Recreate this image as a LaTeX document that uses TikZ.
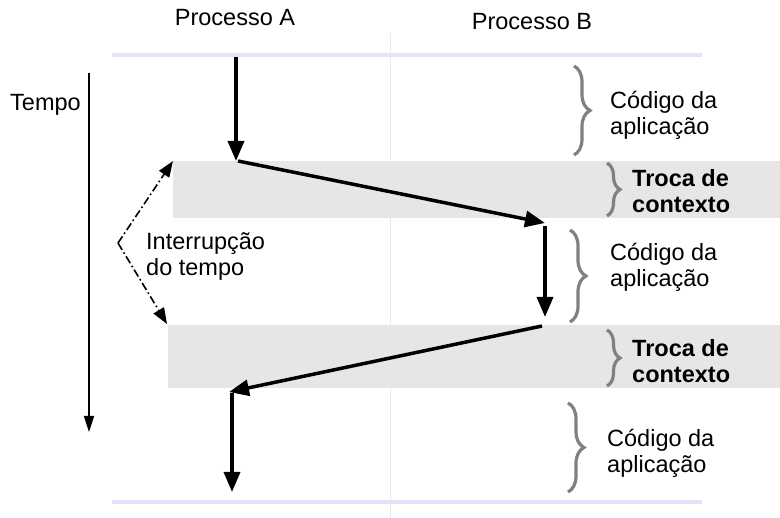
\documentclass[tikz,border=0pt]{standalone}
\usepackage{fontspec}
\setmainfont{Liberation Sans}
\usetikzlibrary{arrows.meta,decorations.pathreplacing}
\definecolor{faixa}{RGB}{230,230,230}
\definecolor{lavanda}{RGB}{226,226,248}
\definecolor{divisor}{RGB}{232,232,244}
\definecolor{chave}{RGB}{128,128,128}

\begin{document}
\begin{tikzpicture}[x=1pt,y=-1pt,
  rotulo/.style={font=\fontsize{23.5}{26}\selectfont,align=left,anchor=west,inner sep=0pt},
  titulo/.style={font=\fontsize{23.5}{26}\selectfont,inner sep=0pt},
  fluxo/.style={line width=3.5pt,-{Triangle[length=20pt,width=16pt]}},
  chaveta/.style={draw=chave,line width=3.2pt,decorate,decoration={brace,amplitude=#1}},
  interr/.style={line width=1.6pt,dash pattern=on 8pt off 3pt on 1.6pt off 3pt,-{Triangle[length=16pt,width=12pt]}}]
\useasboundingbox (0,0) rectangle (780,518);

% faixas de troca de contexto
\fill[faixa] (173,161) rectangle (780,218);
\fill[faixa] (168,325) rectangle (780,388);

% linhas de fundo
\draw[divisor,line width=1pt] (390,33) -- (390,518);
\draw[lavanda,line width=4pt] (112,55) -- (702,55);
\draw[lavanda,line width=4pt] (112,502) -- (702,502);

% titulos
\node[titulo] (pa) at (235,18) {Processo A};
\node[titulo] (pb) at (532,22) {Processo B};
\node[rotulo] (tempo) at (10,105) {Tempo};

% eixo do tempo
\coordinate (t0) at (89,73);
\coordinate (t1) at (89,432);
\draw[line width=1.5pt,-{Triangle[length=16pt,width=10pt]}] (t0) -- (t1);

% fluxo de execucao
\coordinate (a0) at (236,57);
\coordinate (a1) at (236,161);
\coordinate (a2) at (238,161);
\coordinate (b0) at (545,223);
\coordinate (b1) at (545,226);
\coordinate (b2) at (545,317);
\coordinate (b3) at (542,326);
\coordinate (c0) at (229,392);
\coordinate (c1) at (232,393);
\coordinate (c2) at (232,492);
\draw[fluxo] (a0) -- (a1);
\draw[fluxo] (a2) -- (b0);
\draw[fluxo] (b1) -- (b2);
\draw[fluxo] (b3) -- (c0);
\draw[fluxo] (c1) -- (c2);

% interrupcao
\coordinate (int) at (118,243);
\coordinate (int1) at (173,161);
\coordinate (int2) at (167,324);
\draw[interr] (int) -- (int1);
\draw[interr] (int) -- (int2);
\node[rotulo] (irq) at (146,257) {Interrupção\\do tempo};

% chavetas
\draw[chaveta=16pt] (574,66) -- (574,155);
\draw[chaveta=13pt] (607,163) -- (607,216);
\draw[chaveta=16pt] (570,230) -- (570,322);
\draw[chaveta=13pt] (607,330) -- (607,386);
\draw[chaveta=16pt] (568,403) -- (568,492);

\node[rotulo] (cod1) at (610,115) {Código da\\aplicação};
\node[rotulo,font=\fontsize{23.5}{26}\selectfont\bfseries] (tr1) at (632,191) {Troca de\\contexto};
\node[rotulo] (cod2) at (610,267) {Código da\\aplicação};
\node[rotulo,font=\fontsize{23.5}{26}\selectfont\bfseries] (tr2) at (632,361) {Troca de\\contexto};
\node[rotulo] (cod3) at (607,453) {Código da\\aplicação};
\end{tikzpicture}
\end{document}
